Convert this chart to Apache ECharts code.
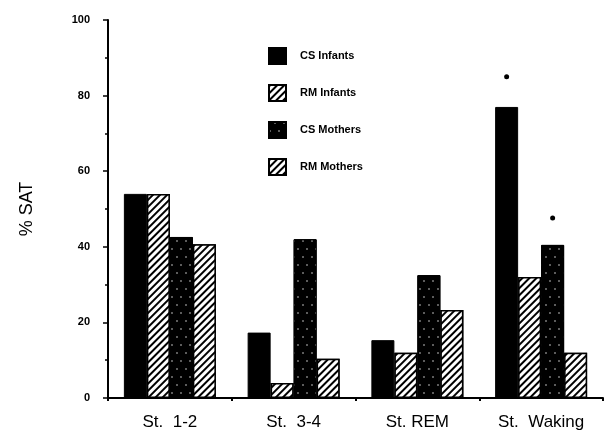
<!DOCTYPE html>
<html>
<head>
<meta charset="utf-8">
<script src="https://cdn.jsdelivr.net/npm/echarts@6/dist/echarts.min.js"></script>
<style>
html,body{margin:0;padding:0;background:#fff;}
#chart{width:616px;height:442px;}
</style>
</head>
<body>
<div id="chart"></div>
<script>
const categories = ['St.  1-2', 'St.  3-4', 'St. REM', 'St.  Waking'];
const csInfants = [54, 17.3, 15.3, 77];
const rmInfants = [54, 4, 12, 32];
const csMothers = [42.6, 42, 32.5, 40.5];
const rmMothers = [40.7, 10.4, 23.3, 12];
const yTicks = [0, 20, 40, 60, 80, 100];
// significance markers (category, value)
const sigCSInfants = [['St.  Waking', 85]];
const sigCSMothers = [['St.  Waking', 47.6]];

const FONT = '"Liberation Sans", Arial, sans-serif';

const hatch = {
  symbol: 'rect', symbolSize: 1, color: '#000', backgroundColor: '#fff',
  dashArrayX: [1, 0], dashArrayY: [1.2, 2.3], rotation: -Math.PI / 4
};
const speckle = {
  symbol: 'circle', symbolSize: 0.7, color: '#fff', backgroundColor: '#000',
  dashArrayX: [[2, 7], [0, 5, 2, 2]], dashArrayY: [2, 6], rotation: 0
};

function markers(arr) {
  return {
    symbol: 'circle', symbolSize: 5, silent: true,
    itemStyle: { color: '#000', decal: 'none' },
    label: { show: false },
    data: arr.map(d => ({ coord: d }))
  };
}

const chart = echarts.init(document.getElementById('chart'));
chart.setOption({
  animation: false,
  backgroundColor: '#fff',
  textStyle: { fontFamily: FONT, color: '#000' },
  grid: { left: 108, right: 13, top: 20, bottom: 44, containLabel: false },
  legend: {
    orient: 'vertical', left: 263, top: 42, icon: 'rect',
    itemWidth: 17, itemHeight: 16, itemGap: 19,
    textStyle: { fontFamily: FONT, fontWeight: 'bold', fontSize: 11, color: '#000', padding: [0, 0, 0, 9] },
    data: ['CS Infants', 'RM Infants', 'CS Mothers', 'RM Mothers']
  },
  xAxis: {
    type: 'category', data: categories, boundaryGap: true,
    axisLine: { lineStyle: { color: '#000', width: 2 } },
    axisTick: { show: true, length: 3, lineStyle: { color: '#000', width: 2 } },
    axisLabel: { color: '#000', fontFamily: FONT, fontSize: 17, margin: 16 }
  },
  yAxis: {
    type: 'value', min: 0, max: 100, interval: 20,
    name: '% SAT', nameLocation: 'middle', nameGap: 72, nameRotate: 90,
    nameTextStyle: { fontFamily: FONT, fontSize: 18, color: '#000' },
    axisLine: { show: true, lineStyle: { color: '#000', width: 2 } },
    axisTick: { show: true, length: 5, lineStyle: { color: '#000', width: 1.5 } },
    minorTick: { show: true, splitNumber: 2, length: 3, lineStyle: { color: '#000', width: 1.5 } },
    splitLine: { show: false },
    axisLabel: {
      color: '#000', fontFamily: FONT, fontWeight: 'bold', fontSize: 11, margin: 18,
      formatter: v => (yTicks.indexOf(v) >= 0 ? String(v) : '')
    }
  },
  series: [
    {
      name: 'CS Infants', type: 'bar', barWidth: 23, barGap: '0%',
      itemStyle: { color: '#000', borderColor: '#000', borderWidth: 1 },
      data: csInfants, markPoint: markers(sigCSInfants)
    },
    {
      name: 'RM Infants', type: 'bar', barWidth: 23, barGap: '0%',
      itemStyle: { color: '#fff', borderColor: '#000', borderWidth: 1.5, decal: hatch },
      data: rmInfants
    },
    {
      name: 'CS Mothers', type: 'bar', barWidth: 23, barGap: '0%',
      itemStyle: { color: '#000', borderColor: '#000', borderWidth: 1, decal: speckle },
      data: csMothers, markPoint: markers(sigCSMothers)
    },
    {
      name: 'RM Mothers', type: 'bar', barWidth: 23, barGap: '0%',
      itemStyle: { color: '#fff', borderColor: '#000', borderWidth: 1.5, decal: hatch },
      data: rmMothers
    }
  ]
});
</script>
</body>
</html>
